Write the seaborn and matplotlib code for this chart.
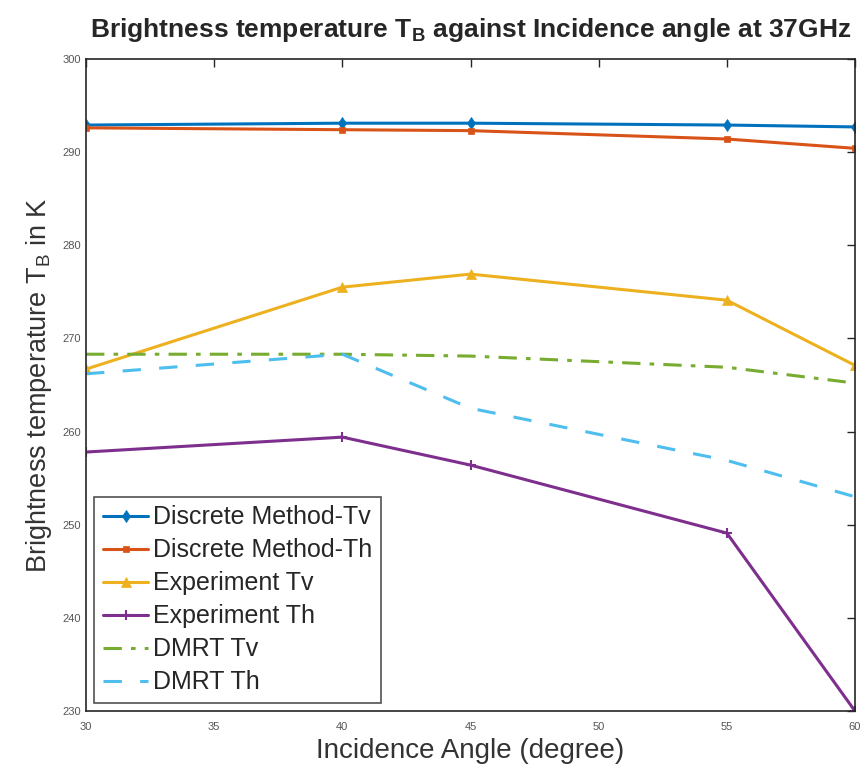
import matplotlib
matplotlib.use("Agg")
import matplotlib.pyplot as plt
import seaborn as sns
import pandas as pd

angles = [30, 40, 45, 55, 60]
discrete_tv = [292.9, 293.1, 293.1, 292.9, 292.7]
discrete_th = [292.6, 292.4, 292.3, 291.4, 290.4]
experiment_tv = [266.7, 275.5, 276.9, 274.1, 267.1]
experiment_th = [257.8, 259.4, 256.4, 249.1, 230.0]
dmrt_tv = [268.3, 268.3, 268.1, 266.9, 265.2]
dmrt_th = [266.2, 268.3, 262.5, 256.9, 253.0]

labels = ["Discrete Method-Tv", "Discrete Method-Th", "Experiment Tv",
          "Experiment Th", "DMRT Tv", "DMRT Th"]
series = [discrete_tv, discrete_th, experiment_tv, experiment_th, dmrt_tv, dmrt_th]
colors = ["#0072BD", "#D95319", "#EDB120", "#7E2F8E", "#77AC30", "#4DBEEE"]
markers = ["d", "s", "^", "+", None, None]
msizes = [6, 4, 7, 7, 0, 0]
styles = ["-", "-", "-", "-", (0, (6, 3, 1.5, 3)), (0, (6, 6))]

rows = []
for lab, vals in zip(labels, series):
    for a, v in zip(angles, vals):
        rows.append({"angle": a, "TB": v, "series": lab})
df = pd.DataFrame(rows)

sns.set_style("white")
plt.rcParams["font.family"] = ["Liberation Sans", "DejaVu Sans"]
plt.rcParams["mathtext.default"] = "regular"

fig = plt.figure(figsize=(8.63, 7.69), dpi=100)
ax = fig.add_axes([0.0997, 0.0754, 0.891, 0.848])

for lab, c, m, ms, ls in zip(labels, colors, markers, msizes, styles):
    sub = df[df["series"] == lab]
    sns.lineplot(data=sub, x="angle", y="TB", ax=ax, color=c, linewidth=2.2,
                 marker=m, markersize=ms, markeredgewidth=1.5 if m == "+" else 0.5,
                 markeredgecolor=c, linestyle=ls, label=lab, sort=False)

ax.set_xlim(30, 60)
ax.set_ylim(230, 300)
ax.set_xticks([30, 35, 40, 45, 50, 55, 60])
ax.set_yticks([230, 240, 250, 260, 270, 280, 290, 300])
ax.tick_params(direction="in", length=6, width=1, labelsize=8, labelcolor="#555555",
               top=True, right=True, colors="#262626")
ax.tick_params(axis="x", pad=8)
ax.tick_params(labelcolor="#555555")
for sp in ax.spines.values():
    sp.set_visible(True)
    sp.set_color("#262626")
    sp.set_linewidth(1.2)

ax.set_xlabel("Incidence Angle (degree)", fontsize=20, color="#333333", labelpad=4)
ax.set_ylabel("Brightness temperature T$_{B}$ in K", fontsize=19.5,
              color="#333333", labelpad=6)
ax.set_title("Brightness temperature T$_{B}$ against Incidence angle at 37GHz",
             fontsize=19, fontweight="bold", color="#262626", pad=16)

leg = ax.legend(loc="lower left", bbox_to_anchor=(0.011, 0.012), fontsize=18,
                frameon=True, fancybox=False, edgecolor="#262626",
                handlelength=1.8, handletextpad=0.2, borderpad=0.35,
                labelspacing=0.36, borderaxespad=0)
leg.get_frame().set_linewidth(1.2)

fig.savefig("out.png", dpi=100)
